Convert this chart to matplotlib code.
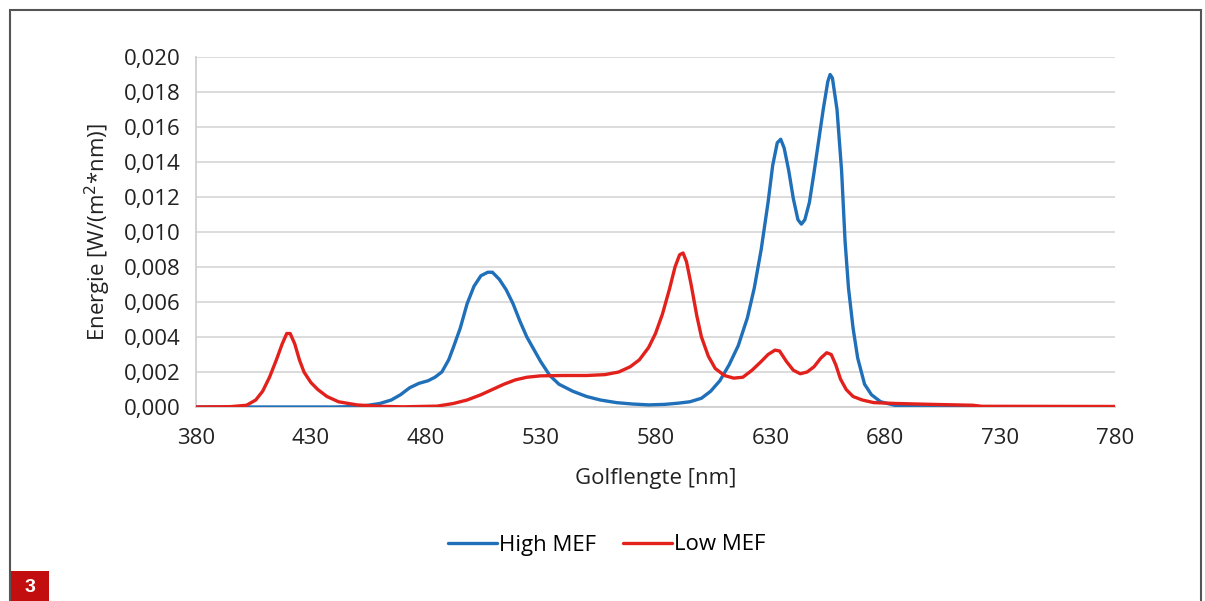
import numpy as np
import matplotlib
matplotlib.use('Agg')
import matplotlib.pyplot as plt
from matplotlib.patches import Rectangle
from matplotlib.ticker import FuncFormatter

plt.rcParams.update({
    'font.family': ['Open Sans', 'DejaVu Sans'],
    'font.size': 16,
})

BLUE = '#1f6fb9'
RED = '#e3211c'

# High MEF spectrum (nm, W/(m2*nm))
high_nm = [380, 400, 420, 440, 450, 455, 460, 465, 469, 473, 477, 481, 484, 487,
           490, 492, 495, 498, 501, 504, 507, 509, 512, 515, 518, 521, 524, 527,
           530, 534, 538, 544, 550, 556, 563, 570, 577, 584, 590, 595, 600, 604,
           608, 612, 616, 620, 623, 626, 629, 631, 633, 634.5, 636, 638, 640, 642,
           643.5, 645, 647, 649, 651, 653, 655, 656, 657, 659, 661, 662.5, 664,
           666, 668, 671, 674, 678, 684, 693, 700, 780]
high_val = [0, 0, 0, 0, 0.00003, 0.0001, 0.0002, 0.0004, 0.0007, 0.0011, 0.00135,
            0.0015, 0.0017, 0.0020, 0.0027, 0.0034, 0.0045, 0.0059, 0.0069, 0.0075,
            0.0077, 0.0077, 0.0073, 0.0067, 0.0059, 0.0049, 0.0040, 0.0033, 0.0026,
            0.0018, 0.0013, 0.0009, 0.0006, 0.0004, 0.00025, 0.00017, 0.00012,
            0.00015, 0.00022, 0.0003, 0.0005, 0.0009, 0.0015, 0.0024, 0.0035,
            0.0051, 0.0068, 0.0090, 0.0117, 0.0138, 0.0151, 0.0153, 0.0148, 0.0135,
            0.0119, 0.0107, 0.01045, 0.0107, 0.0117, 0.0134, 0.0152, 0.0170, 0.0186,
            0.0190, 0.0188, 0.0170, 0.0135, 0.0095, 0.0068, 0.0045, 0.0028, 0.0013,
            0.0007, 0.0003, 0.0001, 0.00002, 0, 0]

# Low MEF spectrum
low_nm = [380, 395, 402, 406, 409, 412, 415, 417.5, 419.5, 421, 423, 425, 427, 430,
          433, 437, 442, 450, 460, 470, 485, 492, 498, 504, 509, 514, 519, 524, 530,
          540, 550, 558, 564, 569, 573, 577, 580, 583, 586, 588.5, 590.5, 592,
          593.5, 595.5, 598, 600, 603, 606, 610, 614, 618, 622, 626, 629, 632, 634,
          637, 640, 643, 646, 649, 652, 654.5, 656.5, 658.5, 660.5, 663, 666, 670,
          675, 685, 700, 718, 722, 780]
low_val = [0, 0.00002, 0.0001, 0.0004, 0.0009, 0.0017, 0.0027, 0.0036, 0.0042, 0.0042,
           0.0036, 0.0027, 0.0020, 0.0014, 0.0010, 0.0006, 0.0003, 0.00012, 0.00004,
           0.00001, 0.00005, 0.0002, 0.0004, 0.0007, 0.0010, 0.0013, 0.00155, 0.0017,
           0.00178, 0.0018, 0.0018, 0.00185, 0.0020, 0.0023, 0.0027, 0.0034, 0.0042,
           0.0053, 0.0067, 0.0080, 0.0087, 0.0088, 0.0083, 0.0070, 0.0052, 0.0040,
           0.0029, 0.0022, 0.0018, 0.00165, 0.0017, 0.0021, 0.0026, 0.0030, 0.00325,
           0.0032, 0.0026, 0.0021, 0.0019, 0.0020, 0.0023, 0.0028, 0.0031, 0.0030,
           0.0024, 0.0016, 0.0010, 0.0006, 0.0004, 0.00025, 0.0002, 0.00015, 0.0001,
           0.00004, 0.00003]

x_ticks = np.arange(380, 781, 50)
y_ticks = np.arange(0, 0.0201, 0.002)

W, H = 1205, 601
fig = plt.figure(figsize=(W / 100, H / 100), dpi=100)
ax = fig.add_axes([196 / W, 1 - 407 / H, (1115 - 196) / W, (407 - 57) / H])

line_kw = dict(lw=2.4, solid_joinstyle='round', solid_capstyle='round', zorder=3)
ax.plot(high_nm, high_val, color=BLUE, label='High MEF', **line_kw)
ax.plot(low_nm, low_val, color=RED, label='Low MEF', **line_kw)

ax.set_xlim(380, 780)
ax.set_ylim(0, 0.020)
ax.set_xticks(x_ticks)
ax.set_yticks(y_ticks)
ax.yaxis.set_major_formatter(FuncFormatter(lambda v, p: f'{v:.3f}'.replace('.', ',')))
ax.tick_params(axis='y', length=0, pad=11, labelsize=16, colors='#222222')
ax.tick_params(axis='x', length=0, pad=15, labelsize=16, colors='#222222')
ax.grid(axis='y', color='#d9d9d9', lw=1.3)
ax.set_axisbelow(True)
for s in ['top', 'right']:
    ax.spines[s].set_visible(False)
for s in ['left', 'bottom']:
    ax.spines[s].set_color('#d0d0d0')
    ax.spines[s].set_linewidth(1.3)

ax.set_xlabel('Golflengte [nm]', fontsize=16, labelpad=14, color='#222222')
ax.set_ylabel('Energie [W/(m$^2$*nm)]', fontsize=16, labelpad=8, color='#222222')

fig.legend(loc='center', bbox_to_anchor=(607 / W, 1 - 545 / H), ncol=2,
           frameon=False, fontsize=16, handlelength=2.2, handletextpad=0.1,
           columnspacing=1.2)

# outer frame and figure number badge
fig.patches.append(Rectangle((10 / W, -0.05), (1201 - 10) / W, 1.05 - 10 / H,
                             transform=fig.transFigure, fill=False,
                             edgecolor='#555555', lw=1.5, clip_on=False))
fig.patches.append(Rectangle((11 / W, 0), 38 / W, 30 / H,
                             transform=fig.transFigure, facecolor='#c20e0e',
                             edgecolor='none'))
fig.text(30 / W, 14 / H, '3', color='white', fontsize=14, fontweight='bold',
         ha='center', va='center', family=['Liberation Sans', 'DejaVu Sans'])

fig.savefig('out.png', dpi=100, facecolor='white')
